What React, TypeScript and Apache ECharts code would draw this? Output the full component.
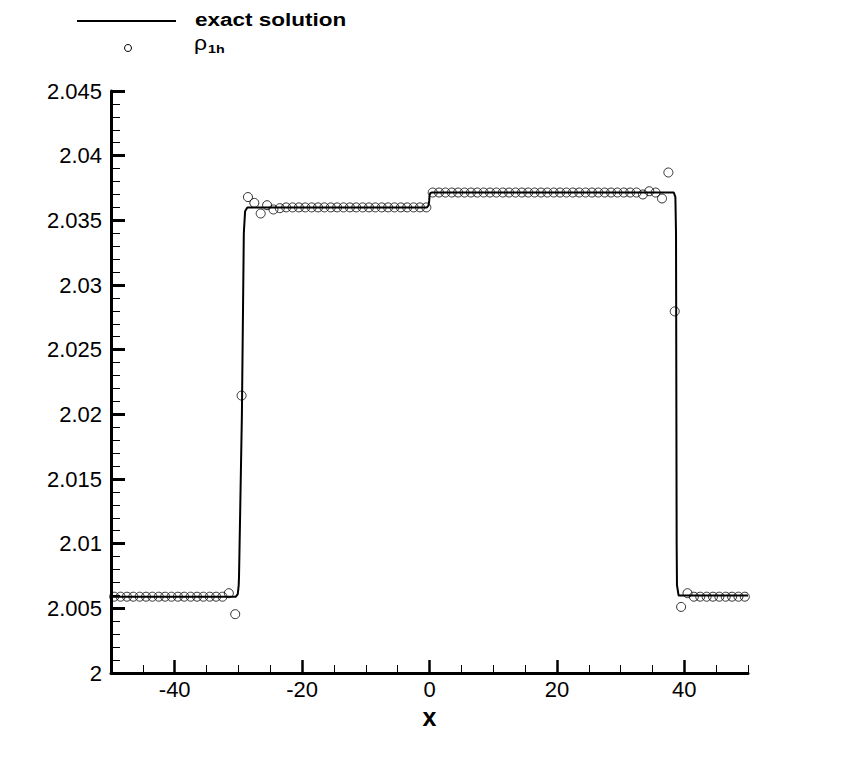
import React, { useEffect, useRef } from "react";
import * as echarts from "echarts";

// numerical solution rho_1h at cell centres
const cellX: number[] = [
  -49.5, -48.5, -47.5, -46.5, -45.5, -44.5, -43.5, -42.5, -41.5, -40.5,
  -39.5, -38.5, -37.5, -36.5, -35.5, -34.5, -33.5, -32.5, -31.5, -30.5,
  -29.5, -28.5, -27.5, -26.5, -25.5, -24.5, -23.5, -22.5, -21.5, -20.5,
  -19.5, -18.5, -17.5, -16.5, -15.5, -14.5, -13.5, -12.5, -11.5, -10.5,
  -9.5, -8.5, -7.5, -6.5, -5.5, -4.5, -3.5, -2.5, -1.5, -0.5,
  0.5, 1.5, 2.5, 3.5, 4.5, 5.5, 6.5, 7.5, 8.5, 9.5,
  10.5, 11.5, 12.5, 13.5, 14.5, 15.5, 16.5, 17.5, 18.5, 19.5,
  20.5, 21.5, 22.5, 23.5, 24.5, 25.5, 26.5, 27.5, 28.5, 29.5,
  30.5, 31.5, 32.5, 33.5, 34.5, 35.5, 36.5, 37.5, 38.5, 39.5,
  40.5, 41.5, 42.5, 43.5, 44.5, 45.5, 46.5, 47.5, 48.5, 49.5,
];
const rho1h: number[] = [
  2.0059, 2.0059, 2.0059, 2.0059, 2.0059, 2.0059, 2.0059, 2.0059, 2.0059, 2.0059,
  2.0059, 2.0059, 2.0059, 2.0059, 2.0059, 2.0059, 2.0059, 2.0059, 2.00617, 2.00455,
  2.02145, 2.0368, 2.03635, 2.03553, 2.03617, 2.03584, 2.03594, 2.036, 2.036, 2.036,
  2.036, 2.036, 2.036, 2.036, 2.036, 2.036, 2.036, 2.036, 2.036, 2.036,
  2.036, 2.036, 2.036, 2.036, 2.036, 2.036, 2.036, 2.036, 2.036, 2.036,
  2.03715, 2.03715, 2.03715, 2.03715, 2.03715, 2.03715, 2.03715, 2.03715, 2.03715, 2.03715,
  2.03715, 2.03715, 2.03715, 2.03715, 2.03715, 2.03715, 2.03715, 2.03715, 2.03715, 2.03715,
  2.03715, 2.03715, 2.03715, 2.03715, 2.03715, 2.03715, 2.03715, 2.03715, 2.03715, 2.03715,
  2.03715, 2.03715, 2.03715, 2.037, 2.03725, 2.03715, 2.03669, 2.0387, 2.02796, 2.00511,
  2.00617, 2.0059, 2.0059, 2.0059, 2.0059, 2.0059, 2.0059, 2.0059, 2.0059, 2.0059,
];

// exact solution
const exactX: number[] = [
  -50, -30.4, -30.1, -29.95, -29.9, -29.45, -29.15, -28.95, -28.6,
  -0.4, -0.15, -0.05, 0, 0.15, 0.4,
  38.35, 38.6, 38.7, 38.8, 38.85, 39.1, 39.5, 50,
];
const exactY: number[] = [
  2.0059, 2.0059, 2.0061, 2.0068, 2.0075, 2.02, 2.034, 2.0357, 2.036,
  2.036, 2.03615, 2.0365, 2.0369, 2.03712, 2.03715,
  2.03715, 2.0368, 2.034, 2.01, 2.0068, 2.006, 2.006, 2.006,
];

const xMajorTicks: number[] = [-40, -20, 0, 20, 40];

const FONT = "Liberation Sans";

export default function App() {
  const ref = useRef<HTMLDivElement>(null);
  useEffect(() => {
    if (!ref.current) return;
    const chart = echarts.init(ref.current, undefined, { renderer: "svg" });
    const option: any = {
      animation: false,
      backgroundColor: "#fff",
      grid: { left: 111, right: 103, top: 91, bottom: 84 },
      xAxis: [
        {
          type: "value",
          min: -50,
          max: 50,
          interval: 5,
          name: "x",
          nameLocation: "middle",
          nameGap: 29,
          nameTextStyle: { fontFamily: FONT, fontSize: 25, fontWeight: "bold", color: "#000" },
          axisLine: { show: true, onZero: false, lineStyle: { color: "#000", width: 3 } },
          axisTick: { show: true, inside: true, length: 8, lineStyle: { color: "#000", width: 1 } },
          axisLabel: {
            fontFamily: FONT,
            fontSize: 22,
            color: "#000",
            margin: 5,
            formatter: (v: number) => (xMajorTicks.indexOf(v) >= 0 ? String(v) : ""),
          },
          splitLine: { show: false },
        },
        {
          type: "value",
          position: "bottom",
          min: -50,
          max: 50,
          axisLine: { show: false },
          axisLabel: { show: false },
          axisTick: {
            show: true,
            inside: true,
            length: 13,
            customValues: xMajorTicks,
            lineStyle: { color: "#000", width: 2.5 },
          },
          splitLine: { show: false },
        },
      ],
      yAxis: {
        type: "value",
        min: 2,
        max: 2.045,
        interval: 0.005,
        axisLine: { show: true, onZero: false, lineStyle: { color: "#000", width: 3 } },
        axisTick: { show: true, inside: true, length: 14, lineStyle: { color: "#000", width: 3 } },
        minorTick: { show: true, splitNumber: 5, length: 9, lineStyle: { color: "#000", width: 1 } },
        axisLabel: {
          fontFamily: FONT,
          fontSize: 22,
          color: "#000",
          margin: 9,
          formatter: (v: number) => String(parseFloat(v.toFixed(3))),
        },
        splitLine: { show: false },
        minorSplitLine: { show: false },
      },
      series: [
        {
          type: "line",
          name: "exact solution",
          xAxisIndex: 0,
          data: exactX.map((x, i) => [x, exactY[i]]),
          showSymbol: false,
          symbol: "none",
          lineStyle: { color: "#000", width: 2 },
          z: 2,
        },
        {
          type: "scatter",
          name: "rho_1h",
          xAxisIndex: 0,
          data: cellX.map((x, i) => [x, rho1h[i]]),
          symbol: "circle",
          symbolSize: 9,
          itemStyle: { color: "rgba(0,0,0,0)", borderColor: "#000", borderWidth: 1 },
          z: 3,
        },
      ],
      graphic: [
        {
          type: "line",
          shape: { x1: 77, y1: 21, x2: 176, y2: 21 },
          style: { stroke: "#000", lineWidth: 2 },
        },
        {
          type: "text",
          x: 195,
          y: 20,
          scaleX: 1.25,
          style: {
            text: "exact solution",
            font: `bold 18px "${FONT}"`,
            fill: "#000",
            verticalAlign: "middle",
            textAlign: "left",
          },
        },
        {
          type: "circle",
          shape: { cx: 128, cy: 48, r: 3.5 },
          style: { stroke: "#000", fill: "none", lineWidth: 1 },
        },
        {
          type: "text",
          x: 194,
          y: 43.5,
          scaleX: 1.15,
          style: {
            text: "ρ",
            font: `20px "${FONT}"`,
            fill: "#000",
            verticalAlign: "middle",
            textAlign: "left",
          },
        },
        {
          type: "text",
          x: 208,
          y: 49.5,
          scaleX: 1.3,
          style: {
            text: "1h",
            font: `bold 11px "${FONT}"`,
            fill: "#000",
            verticalAlign: "middle",
            textAlign: "left",
          },
        },
      ],
    };
    chart.setOption(option);
    return () => chart.dispose();
  }, []);
  return (
    <div
      ref={ref}
      style={{ position: "fixed", left: 0, top: 0, width: 851, height: 757, background: "#fff" }}
    />
  );
}
